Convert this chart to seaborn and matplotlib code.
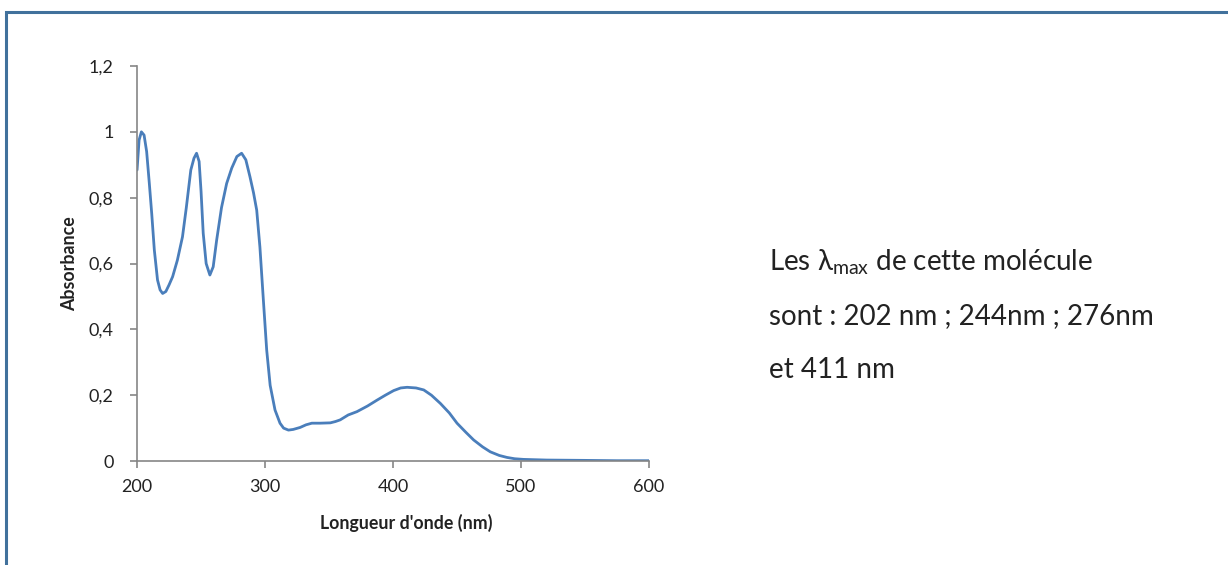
import matplotlib
matplotlib.use("Agg")
import matplotlib.pyplot as plt
import seaborn as sns
from matplotlib.ticker import FuncFormatter

# Spectre UV-visible
wavelength = [200, 201.6, 203.4, 205.5, 207.5, 209.6, 211.5, 213.5, 216, 218, 220, 222.5, 225,
              227.8, 231.5, 235.5, 238.5, 242, 244.5, 246.5, 248.5, 250, 251.7, 254, 256.9, 259.5,
              262.2, 266, 270, 274, 278, 281.7, 285, 288.2, 291, 293.5, 296, 298.7, 301.3, 304,
              307.8, 311.7, 314.5, 318.3, 322, 327.4, 332, 336.6, 343, 351, 355, 358.7, 365, 371.8,
              380, 387.5, 394, 400.5, 406, 411, 418, 424, 430, 437, 444, 450, 457, 463, 470, 476,
              483, 489, 495, 502, 520, 550, 575, 600]
absorbance = [0.884, 0.975, 1.0, 0.99, 0.94, 0.843, 0.75, 0.641, 0.55, 0.52, 0.509, 0.515, 0.535,
              0.56, 0.61, 0.681, 0.77, 0.884, 0.92, 0.935, 0.91, 0.82, 0.692, 0.6, 0.565, 0.59,
              0.671, 0.77, 0.843, 0.89, 0.925, 0.935, 0.915, 0.864, 0.815, 0.762, 0.65, 0.489, 0.337,
              0.23, 0.155, 0.115, 0.1, 0.094, 0.096, 0.102, 0.11, 0.115, 0.115, 0.116, 0.12, 0.125,
              0.14, 0.15, 0.167, 0.185, 0.2, 0.214, 0.222, 0.224, 0.222, 0.216, 0.2, 0.175, 0.146,
              0.115, 0.087, 0.064, 0.043, 0.028, 0.017, 0.011, 0.007, 0.005, 0.003, 0.002, 0.001,
              0.001]
x_ticks = [200, 300, 400, 500, 600]
y_ticks = [0, 0.2, 0.4, 0.6, 0.8, 1.0, 1.2]
note_lines = ["Les λ$_{\\rm max}$ de cette molécule",
              "sont : 202 nm ; 244nm ; 276nm",
              "et 411 nm"]

sns.set_theme(style="ticks")
plt.rcParams["font.family"] = ["Lato", "DejaVu Sans"]
plt.rcParams["mathtext.fontset"] = "custom"
plt.rcParams["mathtext.rm"] = "Lato"

fig = plt.figure(figsize=(12.28, 5.65), dpi=100)
ax = fig.add_axes([0.1116, 0.184, 0.4169, 0.6992])

sns.lineplot(x=wavelength, y=absorbance, ax=ax, color="#4a7ebb", linewidth=2.0)

ax.set_xlim(200, 600)
ax.set_ylim(0, 1.2)
ax.set_xticks(x_ticks)
ax.set_yticks(y_ticks)
ax.yaxis.set_major_formatter(FuncFormatter(lambda v, p: f"{v:g}".replace(".", ",")))
ax.tick_params(axis="both", colors="#868686", labelcolor="#222222", labelsize=13,
               length=5, width=1.2, direction="out")
ax.tick_params(axis="y", pad=12)
ax.tick_params(axis="x", pad=8)
for s in ["left", "bottom"]:
    ax.spines[s].set_color("#868686")
    ax.spines[s].set_linewidth(1.2)
sns.despine(ax=ax)

ax.set_xlabel("Longueur d'onde (nm)", fontsize=12.8, fontweight="bold", color="#222222")
ax.set_ylabel("Absorbance", fontsize=12.8, fontweight="bold", color="#222222")
ax.xaxis.set_label_coords(0.525, -0.135)
ax.yaxis.set_label_coords(-0.115, 0.5)

# texte de droite
for i, line in enumerate(note_lines):
    fig.text(769 / 1228, 1 - (262 + 54 * i) / 565, line, fontsize=20, color="#222222",
             va="center", ha="left")

# cadre extérieur
frame = plt.Rectangle((6 / 1228, -0.2), 1.2, 1.2 - 12 / 565, transform=fig.transFigure,
                      fill=False, edgecolor="#41719c", linewidth=2.2, clip_on=False)
fig.patches.append(frame)

fig.savefig("out.png", dpi=100)
